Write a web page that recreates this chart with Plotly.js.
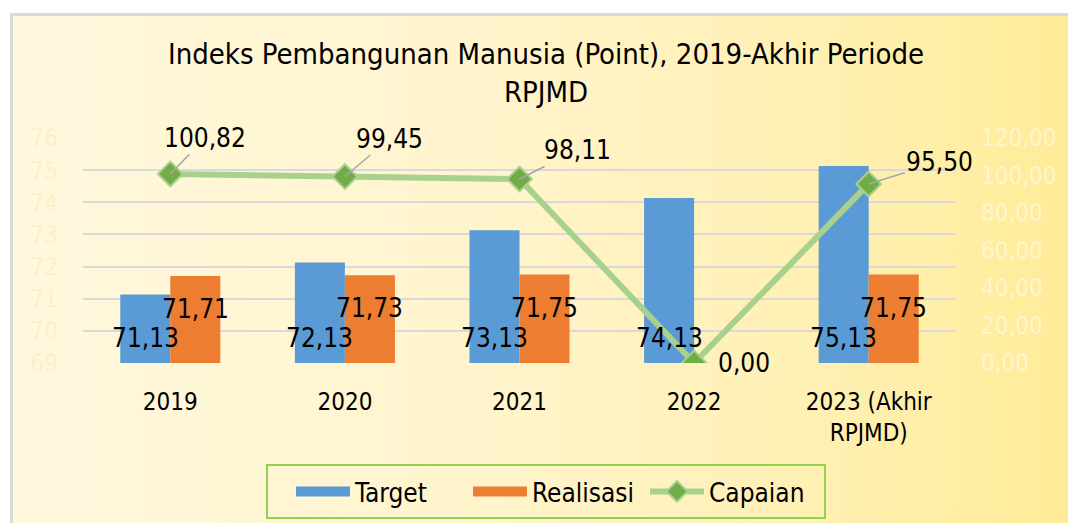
<!DOCTYPE html>
<html>
<head>
<meta charset="utf-8">
<script src="https://cdn.plot.ly/plotly-3.0.1.min.js"></script>
<style>
  html, body { margin: 0; padding: 0; background: #ffffff; }
  #frame { position: absolute; left: 10px; top: 13px; width: 1058px; height: 510px;
    box-sizing: border-box; border-left: 3px solid #d9d9d9; border-top: 3px solid #d9d9d9;
    background: linear-gradient(to right, #fff8de 0%, #fff4cc 45%, #fff0b4 75%, #ffec98 100%); }
  #chart { position: absolute; left: 0; top: 0; width: 1068px; height: 523px; }
</style>
</head>
<body>
<div id="frame"></div>
<div id="chart"></div>
<script>
const categories = ["2019", "2020", "2021", "2022", "2023 (Akhir<br>RPJMD)"];
const target = [71.13, 72.13, 73.13, 74.13, 75.13];
const realisasi = [71.71, 71.73, 71.75, null, 71.75];
const capaian = [100.82, 99.45, 98.11, 0.00, 95.50];
const leftTicks = [69, 70, 71, 72, 73, 74, 75, 76];
const rightTicks = [0, 20, 40, 60, 80, 100, 120];
const capaianLabelOffsets = [[35, -36], [45, -38], [58, -29], [50, 0], [71, -22]];

const FONT = "'DejaVu Sans Condensed', 'DejaVu Sans', sans-serif";
const fmt = v => v.toFixed(2).replace('.', ',');

const traces = [
  { type: 'bar', name: 'Target', x: categories, y: target, marker: { color: '#5b9bd5' },
    hoverinfo: 'skip', showlegend: false },
  { type: 'bar', name: 'Realisasi', x: categories, y: realisasi, marker: { color: '#ed7d31' },
    hoverinfo: 'skip', showlegend: false },
  { type: 'scatter', mode: 'lines+markers', name: 'Capaian', x: categories, y: capaian, yaxis: 'y2',
    line: { color: '#a9d18e', width: 6 },
    marker: { symbol: 'diamond', size: 19, color: '#70ad47', line: { color: '#a9d18e', width: 2 } },
    hoverinfo: 'skip', showlegend: false },
  // legend entries (wide swatches like the reference)
  { type: 'scatter', mode: 'lines', name: 'Target', x: [null], y: [null], line: { color: '#5b9bd5', width: 14 },
    legendrank: 1, hoverinfo: 'skip' },
  { type: 'scatter', mode: 'lines', name: 'Realisasi', x: [null], y: [null], line: { color: '#ed7d31', width: 14 },
    legendrank: 2, hoverinfo: 'skip' },
  { type: 'scatter', mode: 'lines+markers', name: 'Capaian', x: [null], y: [null], yaxis: 'y2',
    line: { color: '#a9d18e', width: 6 },
    marker: { symbol: 'diamond', size: 19, color: '#70ad47', line: { color: '#a9d18e', width: 2 } },
    legendrank: 3, hoverinfo: 'skip' }
];

const LBL = { family: FONT, size: 26, color: '#000' };
const annotations = [];
categories.forEach((c, i) => {
  annotations.push({ x: i, y: leftTicks[0], xref: 'x', yref: 'y', text: fmt(target[i]), showarrow: false,
    xshift: -25, yshift: 8, yanchor: 'bottom', font: LBL });
  if (realisasi[i] !== null) {
    annotations.push({ x: i, y: realisasi[i], xref: 'x', yref: 'y', text: fmt(realisasi[i]), showarrow: false,
      xshift: 25, yshift: -16, yanchor: 'top', font: LBL });
  }
  const o = capaianLabelOffsets[i];
  annotations.push({ x: i, y: capaian[i], xref: 'x', yref: 'y2', text: fmt(capaian[i]),
    showarrow: true, arrowhead: 0, arrowwidth: 1.5, arrowcolor: capaian[i] === 0 ? 'rgba(0,0,0,0)' : '#a6a6a6',
    ax: o[0], ay: o[1], standoff: 0, font: LBL });
});

// legend frame (pixel box converted to paper coordinates of the plot area)
const PL = 83, PW = 873, PB = 363, PH = 225;
const px = v => (v - PL) / PW, py = v => (PB - v) / PH;

const layout = {
  width: 1068, height: 523,
  paper_bgcolor: 'rgba(0,0,0,0)', plot_bgcolor: 'rgba(0,0,0,0)',
  margin: { l: 83, r: 112, t: 138, b: 160 },
  font: { family: FONT, size: 26, color: '#000' },
  title: { text: 'Indeks Pembangunan Manusia (Point), 2019-Akhir Periode<br>RPJMD',
    x: 546 / 1068, xref: 'container', xanchor: 'center', y: 1 - 64 / 523, yref: 'container', yanchor: 'top',
    font: { family: FONT, size: 29, color: '#000' } },
  barmode: 'group', bargap: 0.427, bargroupgap: 0,
  xaxis: { type: 'category', range: [-0.5, 4.5], autorange: false, showgrid: false, zeroline: false,
    showline: false, ticks: '', ticklabelstandoff: 22, tickfont: { family: FONT, size: 24, color: '#000' } },
  yaxis: { range: [69, 76], tickvals: leftTicks, ticktext: leftTicks.map(String), showgrid: true,
    gridcolor: '#d9d9d9', gridwidth: 2, zeroline: false, showline: false, ticks: '',
    ticklabelstandoff: 24, tickfont: { family: FONT, size: 24, color: '#fcefc9' } },
  yaxis2: { range: [0, 120], overlaying: 'y', side: 'right', tickvals: rightTicks,
    ticktext: rightTicks.map(fmt), showgrid: false, zeroline: false, showline: false, ticks: '',
    ticklabelstandoff: 24, tickfont: { family: FONT, size: 24, color: 'rgba(255,255,255,0.5)' } },
  legend: { orientation: 'h', x: 291 / 1068, xref: 'container', xanchor: 'left', y: 1 - 468 / 523,
    yref: 'container', yanchor: 'top', bgcolor: 'rgba(0,0,0,0)', borderwidth: 0,
    font: { family: FONT, size: 26, color: '#000' }, itemwidth: 54, entrywidth: 108, entrywidthmode: 'pixels',
    traceorder: 'normal' },
  shapes: [{ type: 'rect', xref: 'paper', yref: 'paper', x0: px(267), x1: px(825), y0: py(465), y1: py(518),
    line: { color: '#92d050', width: 2 }, fillcolor: 'rgba(0,0,0,0)', layer: 'above' }],
  annotations: annotations,
  showlegend: true
};

Plotly.newPlot('chart', traces, layout, { displayModeBar: false, staticPlot: true });
</script>
</body>
</html>
